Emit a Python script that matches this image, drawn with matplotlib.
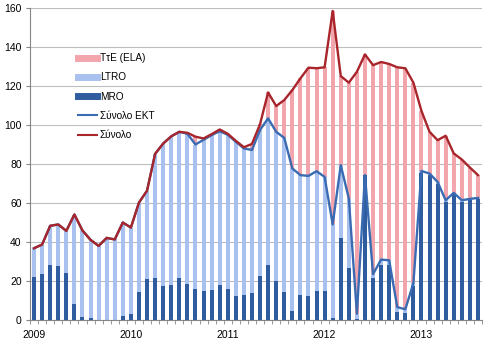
import numpy as np
import matplotlib
matplotlib.use("Agg")
import matplotlib.pyplot as plt
from matplotlib.lines import Line2D

plt.rcParams["font.family"] = ["Liberation Sans", "DejaVu Sans"]

# Μηνιαία στοιχεία, Ιαν 2009 - Αυγ 2013 (δισ. ευρώ)
mro = [22.3, 23.8, 28.4, 27.9, 24.1, 8.4, 1.4, 0.8, 0.2, 0.0, 0.0, 2.2,
       2.9, 14.2, 21.0, 21.6, 17.3, 18.0, 21.4, 18.7, 15.9, 14.9, 15.6, 18.0,
       15.9, 12.2, 12.8, 13.9, 22.4, 28.4, 19.9, 14.4, 4.6, 12.8, 12.5, 15.1,
       14.7, 1.2, 42.1, 26.9, 0.5, 74.2, 21.4, 28.3, 28.0, 4.3, 3.6, 17.6,
       75.5, 74.3, 70.0, 60.6, 64.4, 60.6, 61.3, 61.8]
ltro = [14.5, 14.9, 19.9, 21.1, 21.6, 45.7, 44.5, 40.3, 37.8, 42.1, 41.3, 47.8,
        44.5, 46.0, 45.3, 63.6, 73.2, 76.2, 75.1, 76.8, 74.1, 77.5, 79.2, 78.8,
        79.1, 79.2, 75.2, 73.3, 75.1, 75.0, 76.6, 79.0, 73.1, 61.5, 61.4, 61.2,
        58.7, 47.8, 37.3, 35.4, 2.7, 0.1, 2.1, 2.7, 2.6, 2.3, 1.9, 1.3,
        0.9, 0.8, 0.8, 0.8, 0.8, 0.8, 0.8, 0.8]
ela = [0.0, 0.0, 0.0, 0.0, 0.0, 0.0, 0.0, 0.0, 0.0, 0.0, 0.0, 0.0,
       0.0, 0.0, 0.0, 0.0, 0.0, 0.0, 0.0, 0.5, 4.0, 0.7, 0.5, 0.9,
       0.5, 0.5, 0.6, 3.1, 2.9, 13.3, 13.2, 19.4, 40.2, 49.6, 55.5, 52.8,
       56.2, 109.5, 45.7, 59.4, 124.1, 61.9, 107.2, 101.3, 100.7, 123.0, 123.6, 102.8,
       30.8, 21.4, 21.4, 33.1, 20.2, 20.9, 16.1, 11.7]
year_labels = ["2009", "2010", "2011", "2012", "2013"]

mro = np.array(mro)
ltro = np.array(ltro)
ela = np.array(ela)
x = np.arange(len(mro))
ekt = mro + ltro
total = ekt + ela

c_ela = "#F2A5AC"
c_ltro = "#A9C1EF"
c_mro = "#2E5C9E"
c_ekt = "#3A6BB2"
c_tot = "#A8252B"

fig = plt.figure(figsize=(4.9, 3.44), dpi=100)
ax = fig.add_axes([30 / 490, 1 - 320 / 344, 452 / 490, 312 / 344])

w = 0.5
ax.bar(x, mro, w, color=c_mro, zorder=2)
ax.bar(x, ltro, w, bottom=mro, color=c_ltro, zorder=2)
ax.bar(x, ela, w, bottom=ekt, color=c_ela, zorder=2)
ax.plot(x, ekt, color=c_ekt, lw=1.7, zorder=3)
ax.plot(x, total, color=c_tot, lw=1.7, zorder=4)

ax.set_xlim(-0.5, len(x) - 0.5)
ax.set_ylim(0, 160)
ax.set_yticks(np.arange(0, 161, 20))
ax.grid(axis="y", color="#BEBEBE", lw=0.8, zorder=0)
ax.set_axisbelow(True)

ax.set_xticks(np.arange(0, len(x), 12))
ax.set_xticklabels(year_labels)
ax.set_xticks(np.arange(-0.5, len(x), 1), minor=True)
ax.tick_params(axis="x", which="major", length=0, pad=7, labelsize=7.5)
ax.tick_params(axis="x", which="minor", length=3, color="#868686")
ax.tick_params(axis="y", length=3, color="#868686", labelsize=7.5, pad=3)

for s in ["top", "right"]:
    ax.spines[s].set_visible(False)
for s in ["left", "bottom"]:
    ax.spines[s].set_color("#868686")
    ax.spines[s].set_linewidth(0.8)

handles = [
    Line2D([], [], color=c_ela, lw=5),
    Line2D([], [], color=c_ltro, lw=5),
    Line2D([], [], color=c_mro, lw=5),
    Line2D([], [], color=c_ekt, lw=1.5),
    Line2D([], [], color=c_tot, lw=1.5),
]
labels = ["ΤτΕ (ELA)", "LTRO", "MRO", "Σύνολο ΕΚΤ", "Σύνολο"]
ax.legend(handles, labels, loc="upper left", frameon=False,
          bbox_to_anchor=(78 / 490, 1 - 53 / 344), bbox_transform=fig.transFigure,
          borderpad=0, borderaxespad=0, fontsize=7.2, handlelength=1.9,
          handletextpad=0.3, labelspacing=0.93)

fig.savefig("out.png", dpi=100)
